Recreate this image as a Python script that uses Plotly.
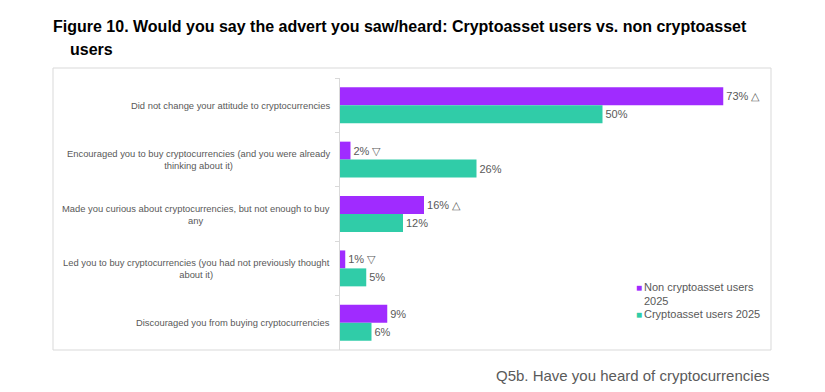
import plotly.graph_objects as go

categories = [
    "Did not change your attitude to cryptocurrencies",
    "Encouraged you to buy cryptocurrencies (and you were already<br>thinking about it)",
    "Made you curious about cryptocurrencies, but not enough to buy<br>any",
    "Led you to buy cryptocurrencies (you had not previously thought<br>about it)",
    "Discouraged you from buying cryptocurrencies",
]
cat_keys = ["c1", "c2", "c3", "c4", "c5"]
non_users = [73, 2, 16, 1, 9]
non_sig = [" △", " ▽", " △", " ▽", ""]
users = [50, 26, 12, 5, 6]
series_names = ["Non cryptoasset users<br>2025", "Cryptoasset users 2025"]
colors = ["#A02BFF", "#30CCA8"]

GRAY = "#595959"
FONT = "Liberation Sans, Arial, sans-serif"

# page body has an 8px margin: figure pixel = screen pixel - 8
OFF = 8
W, H = 825 - 2 * OFF, 392 - 2 * OFF


def fx(s):
    return s - OFF


L = fx(340)
R = W - fx(771)
T = fx(78)
B = H - fx(350)
pw, ph = W - L - R, H - T - B


def px_x(s):
    return (fx(s) - L) / pw


def px_y(s):
    return (H - B - fx(s)) / ph


fig = go.Figure()
fig.add_trace(go.Bar(
    y=cat_keys, x=non_users, orientation="h", marker=dict(color=colors[0], line=dict(width=0)),
    text=[f"{v}%{s}" for v, s in zip(non_users, non_sig)], textposition="outside",
    textfont=dict(size=11, color=GRAY, family=FONT), cliponaxis=False,
    name=series_names[0],
))
fig.add_trace(go.Bar(
    y=cat_keys, x=users, orientation="h", marker=dict(color=colors[1], line=dict(width=0)),
    text=[f"{v}%" for v in users], textposition="outside",
    textfont=dict(size=11, color=GRAY, family=FONT), cliponaxis=False,
    name=series_names[1],
))

annotations = []
for key, lab in zip(cat_keys, categories):
    annotations.append(dict(
        x=px_x(332), xref="paper", y=key, yref="y", text=lab, showarrow=False,
        xanchor="right", yanchor="middle", align="center",
        font=dict(size=9.4, color=GRAY, family=FONT),
    ))

TITLE_FONT = dict(size=16, color="#000000", family="Liberation Sans, Arial, sans-serif")
annotations.append(dict(
    x=px_x(51), xref="paper", y=px_y(26), yref="paper",
    text="<b>Figure 10. Would you say the advert you saw/heard: Cryptoasset users vs. non cryptoasset</b>",
    showarrow=False, xanchor="left", yanchor="middle", font=TITLE_FONT,
))
annotations.append(dict(
    x=px_x(68), xref="paper", y=px_y(50), yref="paper",
    text="<b>users</b>", showarrow=False, xanchor="left", yanchor="middle", font=TITLE_FONT,
))
annotations.append(dict(
    x=px_x(771), xref="paper", y=px_y(375), yref="paper",
    text="Q5b. Have you heard of cryptocurrencies", showarrow=False,
    xanchor="right", yanchor="middle",
    font=dict(size=15, color="#5a5a5a", family=FONT),
))

# legend (drawn as text so the swatch sits right next to the label)
legend_rows = [(287, 294), (314, 314)]
for (sq_y, tx_y), nm, c in zip(legend_rows, series_names, colors):
    annotations.append(dict(
        x=px_x(638.5), xref="paper", y=px_y(sq_y), yref="paper", text="■", showarrow=False,
        xanchor="center", yanchor="middle", font=dict(size=10, color=c, family=FONT),
    ))
    annotations.append(dict(
        x=px_x(642), xref="paper", y=px_y(tx_y), yref="paper", text=nm, showarrow=False,
        xanchor="left", yanchor="middle", align="left",
        font=dict(size=11, color=GRAY, family=FONT),
    ))

shapes = [
    dict(type="rect", xref="paper", yref="paper", x0=px_x(53), x1=px_x(771), y0=px_y(350), y1=px_y(68),
         line=dict(color="#D9D9D9", width=1), fillcolor="rgba(0,0,0,0)", layer="below"),
]

fig.update_layout(
    width=W, height=H, margin=dict(l=L, r=R, t=T, b=B),
    paper_bgcolor="white", plot_bgcolor="white",
    barmode="group", bargap=0.34, bargroupgap=0,
    showlegend=False,
    xaxis=dict(range=[0, pw / 5.25], visible=False, fixedrange=True),
    yaxis=dict(autorange="reversed", showticklabels=False, showline=True, linecolor="#D9D9D9",
               linewidth=1, ticks="outside", tickson="boundaries", ticklen=4, tickcolor="#D9D9D9",
               showgrid=False, zeroline=False),
    annotations=annotations, shapes=shapes,
    font=dict(family=FONT),
)

fig.write_html("out.html")
